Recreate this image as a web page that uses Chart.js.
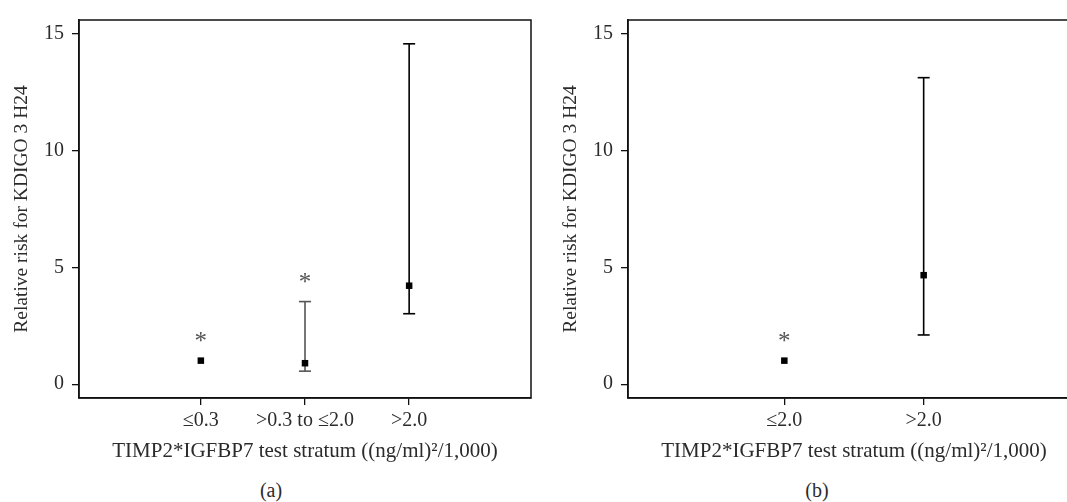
<!DOCTYPE html>
<html>
<head>
<meta charset="utf-8">
<script src="https://cdn.jsdelivr.net/npm/chart.js@4.4.1/dist/chart.umd.min.js"></script>
<style>
  html, body { margin: 0; padding: 0; background: #fff; overflow: hidden; width: 1067px; height: 502px; }
  canvas { position: absolute; top: 0; }
  .cap { position: absolute; top: 479px; font: 20px 'Liberation Serif', serif; color: #2b2b2b; transform: translateX(-50%); }
</style>
</head>
<body>
<canvas id="chartA" width="545" height="470" style="left:0px"></canvas>
<canvas id="chartB" width="545" height="470" style="left:549px"></canvas>
<div class="cap" style="left:271px">(a)</div>
<div class="cap" style="left:817px">(b)</div>
<script>
// panel (a)
const catsA = ['≤0.3', '>0.3 to ≤2.0', '>2.0'];
const rrA = [1.01, 0.90, 4.22];
const loA = [null, 0.56, 3.02];
const hiA = [null, 3.54, 14.58];
const starA = [true, true, false];

// panel (b)
const catsB = ['≤2.0', '>2.0'];
const rrB = [1.01, 4.67];
const loB = [null, 2.11];
const hiB = [null, 13.13];
const starB = [true, false];

const yTicks = [0, 5, 10, 15];
const yTitle = 'Relative risk for KDIGO 3 H24';
const xTitle = 'TIMP2*IGFBP7 test stratum ((ng/ml)²/1,000)';

Chart.defaults.font.family = "'Liberation Serif', serif";
Chart.defaults.font.size = 20;
Chart.defaults.color = '#2b2b2b';

// box round the plot area
const framePlugin = {
    id: 'frame',
    afterDraw(chart) {
        const a = chart.chartArea, ctx = chart.ctx;
        ctx.save();
        ctx.strokeStyle = '#111';
        ctx.lineWidth = 1.5;
        ctx.strokeRect(a.left, a.top, a.right - a.left, a.bottom - a.top);
        ctx.restore();
    }
};

// "*" over the significant strata
const starPlugin = {
    id: 'stars',
    afterDatasetsDraw(chart, args, opts) {
        const ctx = chart.ctx, xs = chart.scales.x, ys = chart.scales.y;
        ctx.save();
        ctx.fillStyle = '#555';
        ctx.font = "25px 'Liberation Serif', serif";
        ctx.textAlign = 'center';
        ctx.textBaseline = 'alphabetic';
        opts.flags.forEach((f, i) => {
            if (!f) return;
            const top = Math.max(opts.rr[i], opts.hi[i] ?? opts.rr[i]);
            ctx.fillText('*', xs.getPixelForValue(i + 1), ys.getPixelForValue(top) - 12);
        });
        ctx.restore();
    }
};

function makeChart(id, cats, rr, lo, hi, stars, barColors) {
    const datasets = [{
        data: rr.map((v, i) => ({ x: i + 1, y: v })),
        pointStyle: 'rect',
        pointRadius: 4.6,
        backgroundColor: '#000',
        borderColor: '#000',
        borderWidth: 0,
        showLine: false
    }];
    rr.forEach((v, i) => {
        if (lo[i] == null) return;
        datasets.push({
            data: [{ x: i + 1, y: lo[i] }, { x: i + 1, y: hi[i] }],
            showLine: true,
            borderColor: barColors[i],
            borderWidth: 1.6,
            pointStyle: 'line',
            pointRadius: 6,
            pointBorderColor: barColors[i],
            pointBorderWidth: 1.6
        });
    });

    return new Chart(document.getElementById(id), {
        type: 'scatter',
        data: { datasets },
        options: {
            responsive: false,
            animation: false,
            events: [],
            layout: { padding: { top: 14, right: 14, left: 0, bottom: 0 } },
            plugins: {
                legend: { display: false },
                tooltip: { enabled: false },
                stars: { flags: stars, rr: rr, hi: hi }
            },
            scales: {
                x: {
                    type: 'linear',
                    min: 1 - (cats.length === 3 ? 1.17 : 1.122),
                    max: cats.length + (cats.length === 3 ? 1.17 : 1.122),
                    afterBuildTicks: s => { s.ticks = cats.map((c, i) => ({ value: i + 1 })); },
                    afterFit: s => { s.height = 72; },
                    ticks: {
                        callback: v => cats[v - 1],
                        padding: 4,
                        maxRotation: 0,
                        autoSkip: false
                    },
                    grid: { display: true, drawOnChartArea: false, drawTicks: true, tickLength: 7, color: '#111', lineWidth: 1.3 },
                    border: { display: true, color: '#111', width: 1.5 },
                    title: { display: true, text: xTitle, font: { size: 21 }, padding: { top: 0, bottom: 6 } }
                },
                y: {
                    min: -0.59,
                    max: 15.6,
                    afterBuildTicks: s => { s.ticks = yTicks.map(v => ({ value: v })); },
                    afterFit: s => { s.width = 79; },
                    ticks: { padding: 8 },
                    grid: { display: true, drawOnChartArea: false, drawTicks: true, tickLength: 7, color: '#111', lineWidth: 1.3 },
                    border: { display: true, color: '#111', width: 1.5 },
                    title: { display: true, text: yTitle, font: { size: 19.5 }, padding: { top: 10, bottom: 0 } }
                }
            }
        },
        plugins: [framePlugin, starPlugin]
    });
}

makeChart('chartA', catsA, rrA, loA, hiA, starA, ['#000', '#555', '#000']);
makeChart('chartB', catsB, rrB, loB, hiB, starB, ['#000', '#000']);
</script>
</body>
</html>
